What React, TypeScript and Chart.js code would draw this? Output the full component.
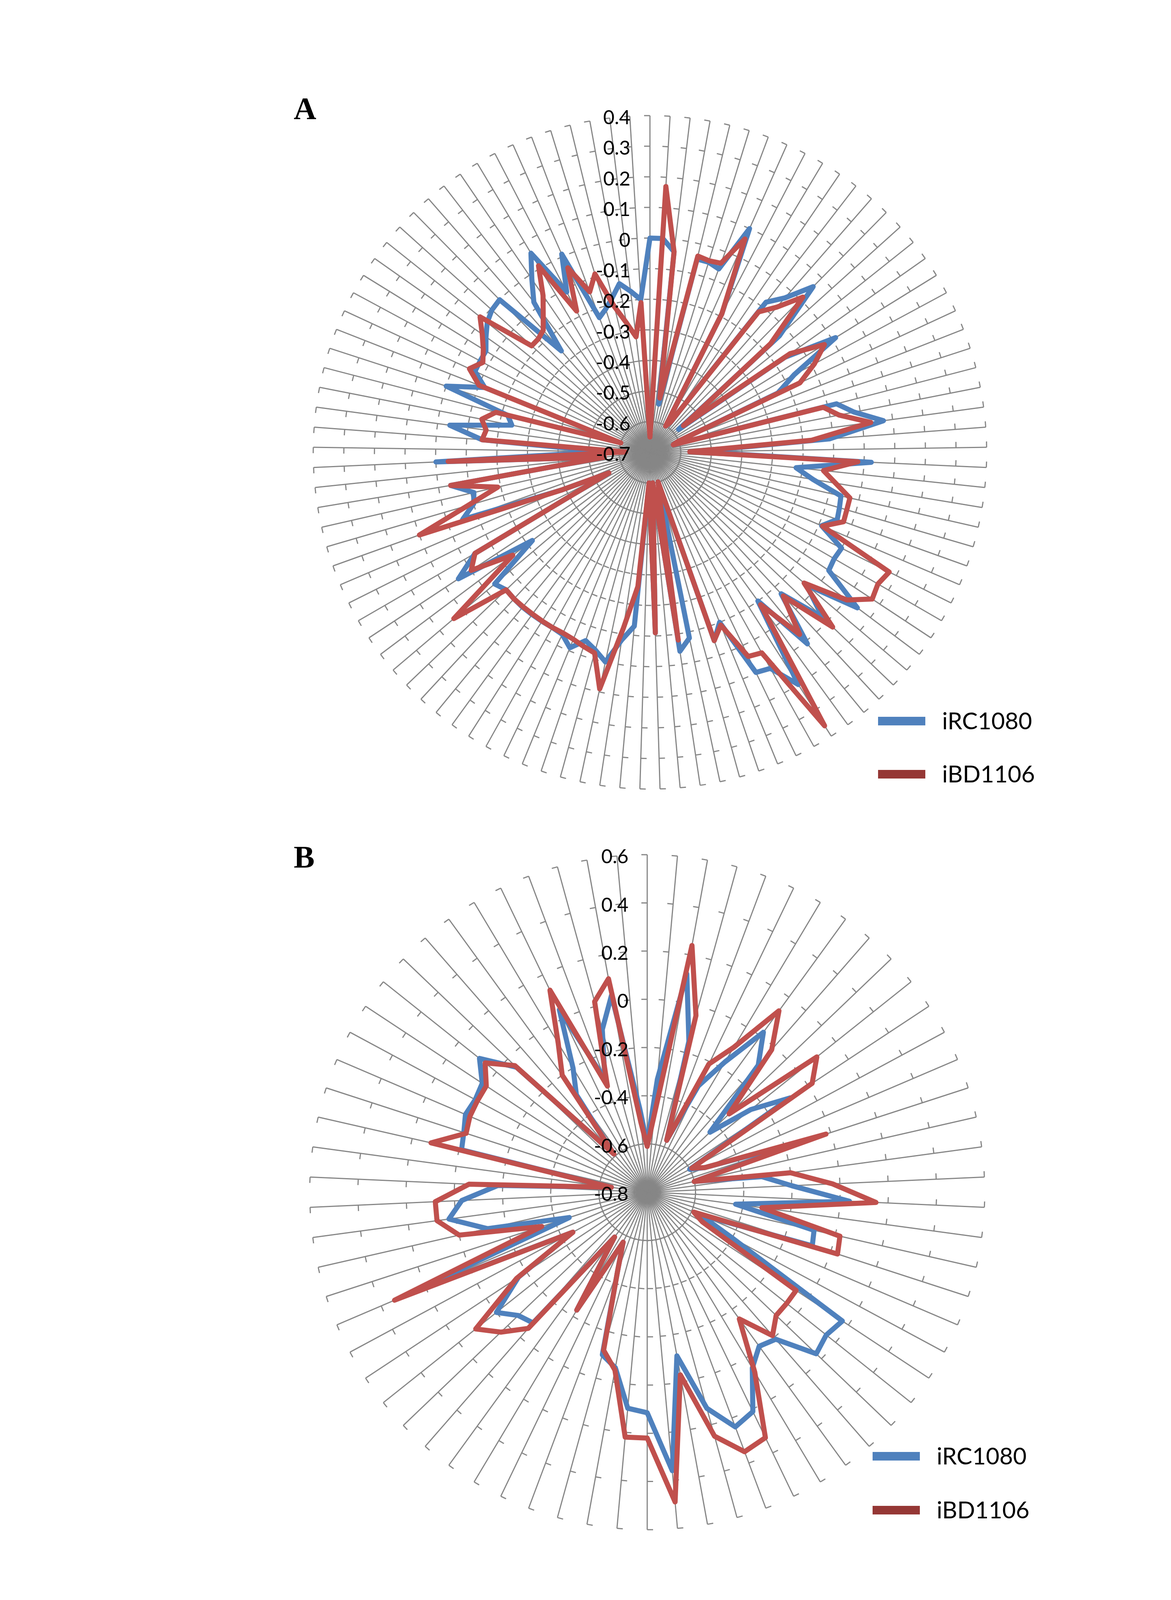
import React, { useEffect, useRef } from "react";
import { Chart, registerables } from "chart.js";

Chart.register(...registerables);

// ---------- data ----------
const SERIES_NAMES = ["iRC1080", "iBD1106"];

const A_CATEGORIES = Array.from({ length: 105 }, (_, i) => String(i + 1));
const B_CATEGORIES = Array.from({ length: 70 }, (_, i) => String(i + 1));

const A_AXIS = { min: -0.7, max: 0.4, step: 0.1 };
const B_AXIS = { min: -0.8, max: 0.6, step: 0.2 };

const A_IRC1080 = [
  0.0, 0.0, -0.04, -0.54, -0.05, -0.05, -0.06, 0.10, -0.19, -0.6,
  -0.58, -0.08, -0.03, 0.06, -0.13, -0.58, -0.16, 0.013, -0.165, -0.24,
  -0.6, -0.62, -0.07, -0.02, 0.07, -0.112, -0.55, 0.024, -0.22, -0.16,
  -0.06, -0.055, -0.05, -0.09, 0.0, -0.005, 0.0, 0.147, -0.03, 0.08,
  -0.07, 0.11, -0.1, 0.2, 0.108, 0.098, -0.1, -0.05, -0.6, -0.08,
  -0.043, -0.6, -0.11, -0.6, -0.13, -0.08, 0.0, -0.03, -0.05, -0.01,
  -0.04, -0.045, -0.045, -0.045, -0.045, -0.047, -0.05, -0.035, -0.22, 0.05,
  -0.04, -0.55, -0.39, -0.05, -0.1, -0.11, -0.04, -0.55, 0.0, -0.55,
  -0.15, -0.04, -0.24, -0.22, 0.0, -0.12, -0.07, -0.07, -0.07, -0.045,
  -0.02, -0.005, 0.0, -0.26, -0.08, -0.015, 0.058, -0.11, 0.009, -0.23,
  -0.21, -0.18, -0.14, -0.17, -0.2,
];

const A_IBD1106 = [
  -0.65, 0.17, -0.04, -0.52, -0.04, -0.045, -0.04, 0.063, -0.19, -0.6,
  -0.58, -0.12, -0.07, 0.012, -0.17, -0.56, -0.14, -0.03, -0.09, -0.16,
  -0.6, -0.62, -0.115, -0.07, 0.028, -0.17, -0.57, -0.02, -0.13, -0.085,
  -0.03, -0.03, -0.028, -0.087, 0.174, 0.16, 0.17, 0.104, -0.04, 0.126,
  -0.06, 0.07, -0.085, 0.36, 0.05, 0.04, -0.09, -0.05, -0.6, -0.55,
  -0.08, -0.6, -0.11, -0.6, -0.26, -0.12, 0.09, -0.02, -0.03, -0.04,
  -0.045, -0.045, -0.046, -0.047, -0.047, -0.047, -0.05, 0.14, -0.14, 0.0,
  -0.04, -0.55, -0.39, 0.1, -0.08, -0.19, -0.04, -0.55, -0.04, -0.62,
  -0.15, -0.16, -0.14, -0.18, -0.6, -0.1, -0.05, -0.08, -0.06, -0.03,
  0.01, -0.18, -0.18, -0.17, -0.13, -0.08, 0.01, -0.18, -0.04, -0.14,
  -0.09, -0.21, -0.27, -0.32, -0.21,
];

const B_IRC1080 = [
  -0.6, -0.33, 0.12, -0.15, -0.57, -0.31, -0.17, 0.02, -0.1, -0.44,
  -0.25, -0.09, -0.6, -0.54, -0.1, -0.6, -0.32, -0.2, 0.04, -0.43,
  -0.09, -0.08, -0.56, -0.4, 0.17, 0.15, 0.17, 0.01, -0.01, 0.05,
  0.21, 0.24, 0.13, -0.11, 0.36, 0.115, 0.1, -0.06, -0.1, -0.45,
  -0.57, -0.23, -0.57, -0.08, -0.06, 0.0, -0.16, -0.45, 0.3, -0.46,
  -0.12, 0.03, -0.03, -0.18, -0.65, -0.01, 0.0, 0.02, 0.01, 0.02,
  0.09, -0.05, -0.59, -0.3, -0.2, 0.04, -0.3, -0.1, 0.03, -0.45,
];

const B_IBD1106 = [
  -0.61, -0.48, 0.24, -0.04, -0.57, -0.21, -0.1, 0.13, -0.015, -0.33,
  0.1, 0.02, -0.59, -0.54, -0.02, -0.6, -0.2, -0.03, 0.15, -0.32,
  0.02, 0.03, -0.59, -0.54, -0.06, -0.06, -0.06, -0.01, -0.15, 0.07,
  0.33, 0.35, 0.25, -0.03, 0.49, 0.22, 0.22, -0.05, -0.12, -0.45,
  -0.57, -0.23, -0.57, -0.05, 0.04, 0.11, -0.15, -0.45, 0.34, -0.34,
  0.0, 0.08, 0.08, -0.06, -0.65, 0.12, -0.01, 0.0, 0.0, 0.0,
  0.06, -0.04, -0.59, -0.2, -0.08, 0.13, -0.33, 0.02, 0.1, -0.51,
];

// ---------- styles ----------
const BLUE = "#4F81BD";
const RED = "#C0504D";
const RED_LEGEND = "#953735";
const GRAY = "#868686";

function fmt(v: number) {
  const r = Math.round(v * 10) / 10;
  return String(r === 0 ? 0 : r);
}

const spokePlugin = {
  id: "spokeDecor",
  beforeDatasetsDraw(chart: any, _args: any, opts: any) {
    const scale = chart.scales.r;
    const ctx = chart.ctx;
    const n = chart.data.labels.length;
    ctx.save();
    ctx.strokeStyle = GRAY;
    ctx.lineWidth = opts.tickWidth;
    ctx.lineCap = "butt";
    ctx.beginPath();
    for (let i = 0; i < n; i++) {
      const a = scale.getIndexAngle(i) - Math.PI / 2;
      const px = Math.cos(a - Math.PI / 2);
      const py = Math.sin(a - Math.PI / 2);
      for (const t of scale.ticks) {
        if (t.value <= scale.min + 1e-9) continue;
        const p = scale.getPointPositionForValue(i, t.value);
        ctx.moveTo(p.x, p.y);
        ctx.lineTo(p.x + px * opts.tickLen, p.y + py * opts.tickLen);
      }
    }
    ctx.stroke();
    ctx.restore();
  },
  afterDatasetsDraw(chart: any, _args: any, opts: any) {
    const scale = chart.scales.r;
    const ctx = chart.ctx;
    ctx.save();
    ctx.fillStyle = "#000";
    ctx.font = `${opts.labelSize}px Lato, "Open Sans", sans-serif`;
    ctx.textAlign = "right";
    ctx.textBaseline = "middle";
    for (const t of scale.ticks) {
      const y = scale.yCenter - scale.getDistanceFromCenterForValue(t.value);
      ctx.fillText(fmt(t.value), scale.xCenter - opts.labelDx, y + opts.labelDy);
    }
    ctx.restore();
  },
  afterDraw(chart: any, _args: any, opts: any) {
    const ctx = chart.ctx;
    ctx.save();
    // panel letter
    ctx.fillStyle = "#000";
    ctx.font = `bold ${opts.letterSize}px "Liberation Serif", "DejaVu Serif", serif`;
    ctx.textAlign = "left";
    ctx.textBaseline = "alphabetic";
    ctx.fillText(opts.letter, opts.letterX, opts.letterY);
    // legend
    const swatches = [BLUE, RED_LEGEND];
    chart.data.datasets
      .map((d: any, k: number) => ({ d, k }))
      .sort((p: any, q: any) => SERIES_NAMES.indexOf(p.d.label) - SERIES_NAMES.indexOf(q.d.label))
      .forEach((item: any, row: number) => {
        const y = opts.legendY + row * opts.legendGap;
        ctx.fillStyle = swatches[SERIES_NAMES.indexOf(item.d.label)];
        ctx.fillRect(opts.legendX, y - opts.swatchH / 2, opts.swatchW, opts.swatchH);
        ctx.fillStyle = "#000";
        ctx.font = `${opts.legendSize}px Lato, "Open Sans", sans-serif`;
        ctx.textBaseline = "middle";
        ctx.fillText(item.d.label, opts.legendX + opts.swatchW + opts.textGap, y + 2);
      });
    ctx.restore();
  },
};

type PanelCfg = {
  width: number;
  height: number;
  top: number;
  cx: number;
  cy: number;
  radius: number;
  labels: string[];
  irc: number[];
  ibd: number[];
  axis: { min: number; max: number; step: number };
  decor: any;
};

function RadarPanel({ cfg }: { cfg: PanelCfg }) {
  const ref = useRef<HTMLCanvasElement | null>(null);
  useEffect(() => {
    const canvas = ref.current!;
    const pad = {
      left: cfg.cx - cfg.radius,
      right: cfg.width - (cfg.cx + cfg.radius),
      top: cfg.cy - cfg.radius,
      bottom: cfg.height - (cfg.cy + cfg.radius),
    };
    const chart = new Chart(canvas, {
      type: "radar",
      data: {
        labels: cfg.labels,
        datasets: [
          {
            label: SERIES_NAMES[0],
            data: cfg.irc,
            borderColor: BLUE,
            backgroundColor: "rgba(0,0,0,0)",
            fill: false,
            borderWidth: 13,
            pointRadius: 0,
            pointHoverRadius: 0,
            borderJoinStyle: "round",
            tension: 0,
            order: 1,
          },
          {
            label: SERIES_NAMES[1],
            data: cfg.ibd,
            borderColor: RED,
            backgroundColor: "rgba(0,0,0,0)",
            fill: false,
            borderWidth: 13,
            pointRadius: 0,
            pointHoverRadius: 0,
            borderJoinStyle: "round",
            tension: 0,
            order: 0,
          },
        ],
      } as any,
      options: {
        animation: false,
        responsive: false,
        maintainAspectRatio: false,
        devicePixelRatio: 1,
        events: [],
        layout: { padding: pad },
        plugins: {
          legend: { display: false },
          tooltip: { enabled: false },
          spokeDecor: cfg.decor,
        } as any,
        scales: {
          r: {
            min: cfg.axis.min,
            max: cfg.axis.max,
            ticks: { display: false, stepSize: cfg.axis.step },
            grid: { display: false },
            angleLines: { display: true, color: GRAY, lineWidth: 3 },
            pointLabels: { display: false },
          },
        } as any,
      },
      plugins: [spokePlugin as any],
    });
    return () => chart.destroy();
  }, [cfg]);
  return (
    <canvas
      ref={ref}
      width={cfg.width}
      height={cfg.height}
      style={{
        position: "absolute",
        left: 0,
        top: cfg.top,
        width: cfg.width,
        height: cfg.height,
      }}
    />
  );
}

const PANEL_A: PanelCfg = {
  width: 2998,
  height: 2120,
  top: 0,
  cx: 1664,
  cy: 1158,
  radius: 862,
  labels: A_CATEGORIES,
  irc: A_IRC1080,
  ibd: A_IBD1106,
  axis: A_AXIS,
  decor: {
    tickLen: 15,
    tickWidth: 3,
    labelSize: 50,
    labelDx: 50,
    labelDy: 6,
    letter: "A",
    letterSize: 80,
    letterX: 752,
    letterY: 305,
    legendX: 2248,
    legendY: 1846,
    legendGap: 136,
    swatchW: 121,
    swatchH: 22,
    textGap: 43,
    legendSize: 60,
  },
};

const PANEL_B: PanelCfg = {
  width: 2998,
  height: 2211,
  top: 2120,
  cx: 1657,
  cy: 932,
  radius: 864,
  labels: B_CATEGORIES,
  irc: B_IRC1080,
  ibd: B_IBD1106,
  axis: B_AXIS,
  decor: {
    tickLen: 15,
    tickWidth: 3,
    labelSize: 50,
    labelDx: 48,
    labelDy: 6,
    letter: "B",
    letterSize: 80,
    letterX: 752,
    letterY: 101,
    legendX: 2234,
    legendY: 1608,
    legendGap: 138,
    swatchW: 121,
    swatchH: 22,
    textGap: 43,
    legendSize: 60,
  },
};

export default function App() {
  return (
    <div style={{ position: "absolute", left: 0, top: 0, width: 2998, height: 4331, background: "#fff" }}>
      <RadarPanel cfg={PANEL_A} />
      <RadarPanel cfg={PANEL_B} />
    </div>
  );
}
